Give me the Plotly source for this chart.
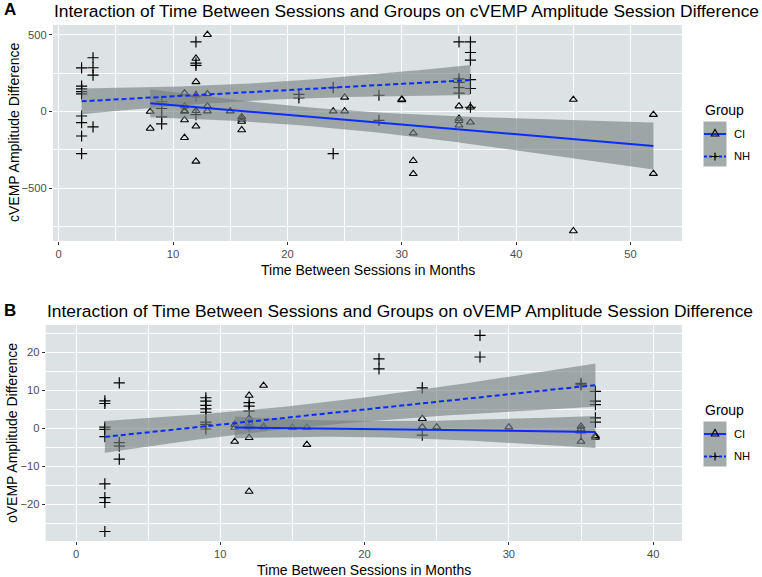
import numpy as np
import plotly.graph_objects as go

# ---------------- DATA ----------------
# Panel A: cVEMP amplitude session difference
ci_a_months = [8, 8, 11, 11, 11, 11, 11, 11, 12, 12, 12, 12, 12, 12, 13, 13, 13, 13, 15,
               16, 16, 16, 16, 24, 25, 25, 30, 30, 31, 31, 31, 35, 35, 35, 35, 36, 36,
               45, 45, 52, 52]
ci_a_diff = [0, -110, 120, 35, 5, 0, -55, -170, 345, 193, 106, 5, -96, -324, 500, 115, 35, 3, 3,
             -35, -50, -65, -120, 3, 92, 3, 80, 76, -140, -320, -405, 35, -45, -60, -89, 28, -70,
             78, -777, -20, -404]
nh_a_months = [2, 2, 2, 2, 2, 2, 2, 2, 2, 3, 3, 3, 3, 9, 9, 9, 9, 9, 12, 12, 12, 12, 12,
               21, 21, 24, 24, 28, 28, 35, 35, 35, 35, 35, 36, 36, 36, 36, 36, 36]
nh_a_diff = [284, 165, 148, 130, 115, -29, -72, -159, -274, 350, 285, 237, -100,
             65, 50, 20, -35, -80, 453, 315, 300, 100, -20, 112, 88, 155, -274, 106, -57,
             453, 212, 190, 155, 120, 453, 384, 334, 208, 150, 28]

# Panel B: oVEMP amplitude session difference
ci_b_months = [11, 11, 11, 12, 12, 12, 12, 12, 12, 13, 13, 13, 15, 16, 16, 24, 24, 25, 30,
               35, 35, 35, 36, 36]
ci_b_diff = [1.0, 0.2, -3.5, 8.6, 2.5, 1.5, 0.3, -2.5, -16.6, 11.2, 0.5, 0.2, 0.2, 0.2, -4.3,
             2.5, 0.3, 0.3, 0.3, 0.5, -0.2, -3.5, -2.0, -2.4]
nh_b_months = [2, 2, 2, 2, 2, 2, 2, 2, 2, 3, 3, 3, 3, 9, 9, 9, 9, 9, 9, 9, 9,
               12, 12, 12, 12, 21, 21, 24, 24, 28, 28, 35, 35, 35, 36, 36, 36, 36, 36]
nh_b_diff = [7.2, 6.5, 0.3, -0.3, -2.2, -14.6, -18.2, -19.5, -27.1, 11.9, -3.8, -4.7, -8.1,
             8.0, 7.1, 6.0, 5.1, 4.2, 1.6, 1.0, -0.2, 6.7, 5.8, 4.5, 0.5, 18.2, 15.6, 10.6, -1.8,
             24.4, 18.7, 11.8, 11.4, -1.2, 9.7, 7.1, 6.2, 2.7, 1.6]

groups = ["CI", "NH"]
titles = ["Interaction of Time Between Sessions and Groups on cVEMP Amplitude Session Difference",
          "Interaction of Time Between Sessions and Groups on oVEMP Amplitude Session Difference"]
ytitles = ["cVEMP Amplitude Difference", "oVEMP Amplitude Difference"]
xtitle = "Time Between Sessions in Months"
tags = ["A", "B"]

# ---------------- STYLE ----------------
W, H = 762, 577
FONT = "Liberation Sans, Arial, sans-serif"
PANEL = "#dde3e5"
RIBBON = "rgba(118,128,127,0.62)"
KEYFILL = "#a4acab"
BLUE = "#0a2cff"
DASH = "5px,3px"


def X(px):
    return px / W


def Y(py):
    return 1 - py / H


def tq975(df):
    z = 1.959963985
    g1 = (z ** 3 + z) / 4
    g2 = (5 * z ** 5 + 16 * z ** 3 + 3 * z) / 96
    g3 = (3 * z ** 7 + 19 * z ** 5 + 17 * z ** 3 - 15 * z) / 384
    return z + g1 / df + g2 / df ** 2 + g3 / df ** 3


def lm_smooth(xs, ys, n=80):
    x = np.asarray(xs, float)
    y = np.asarray(ys, float)
    b1, b0 = np.polyfit(x, y, 1)
    k = len(x)
    resid = y - (b0 + b1 * x)
    s = np.sqrt(np.sum(resid ** 2) / (k - 2))
    xb = x.mean()
    sxx = np.sum((x - xb) ** 2)
    g = np.linspace(x.min(), x.max(), n)
    f = b0 + b1 * g
    se = s * np.sqrt(1 / k + (g - xb) ** 2 / sxx)
    t = tq975(k - 2)
    return g, f, f - t * se, f + t * se


fig = go.Figure()

panels = [
    dict(xa="x", ya="y", ci=(ci_a_months, ci_a_diff), nh=(nh_a_months, nh_a_diff)),
    dict(xa="x2", ya="y2", ci=(ci_b_months, ci_b_diff), nh=(nh_b_months, nh_b_diff)),
]

for p in panels:
    # points
    fig.add_trace(go.Scatter(x=p["ci"][0], y=p["ci"][1], mode="markers", xaxis=p["xa"], yaxis=p["ya"],
                             marker=dict(symbol="triangle-up-open", size=7, color="black",
                                         line=dict(width=1.1, color="black")),
                             showlegend=False, hoverinfo="skip"))
    fig.add_trace(go.Scatter(x=p["nh"][0], y=p["nh"][1], mode="markers", xaxis=p["xa"], yaxis=p["ya"],
                             marker=dict(symbol="cross-thin-open", size=8, color="black",
                                         line=dict(width=1.2, color="black")),
                             showlegend=False, hoverinfo="skip"))
    # smooths
    fits = []
    for key in ["ci", "nh"]:
        g, f, lo, hi = lm_smooth(*p[key])
        fits.append((g, f))
        fig.add_trace(go.Scatter(x=np.concatenate([g, g[::-1]]), y=np.concatenate([hi, lo[::-1]]),
                                 mode="lines", fill="toself", fillcolor=RIBBON, line=dict(width=0),
                                 xaxis=p["xa"], yaxis=p["ya"], showlegend=False, hoverinfo="skip"))
    for (g, f), dash in zip(fits, ["solid", DASH]):
        fig.add_trace(go.Scatter(x=g, y=f, mode="lines", line=dict(color=BLUE, width=2, dash=dash),
                                 xaxis=p["xa"], yaxis=p["ya"], showlegend=False, hoverinfo="skip"))

common_ax = dict(showline=False, zeroline=False, showgrid=True, gridcolor="white", gridwidth=1.2,
                 ticks="outside", ticklen=3, tickwidth=1, tickcolor="#333333",
                 tickfont=dict(family=FONT, size=11.2, color="#4d4d4d"))

fig.update_layout(
    width=W, height=H, margin=dict(l=0, r=0, t=0, b=0),
    paper_bgcolor="white", plot_bgcolor=PANEL, showlegend=False,
    font=dict(family=FONT),
    xaxis=dict(domain=[X(53), X(682)], range=[-0.5, 54.5], tickvals=[0, 10, 20, 30, 40, 50],
               minor=dict(tickvals=[5, 15, 25, 35, 45], showgrid=True, gridcolor="white", gridwidth=0.6, ticks=""),
               anchor="y", **common_ax),
    yaxis=dict(domain=[Y(241), Y(25)], range=[-842, 563], tickvals=[-500, 0, 500],
               minor=dict(tickvals=[-750, -250, 250], showgrid=True, gridcolor="white", gridwidth=0.6, ticks=""),
               anchor="x", **common_ax),
    xaxis2=dict(domain=[X(45.7), X(682)], range=[-2.1, 42.0], tickvals=[0, 10, 20, 30, 40],
                minor=dict(tickvals=[5, 15, 25, 35], showgrid=True, gridcolor="white", gridwidth=0.6, ticks=""),
                anchor="y2", **common_ax),
    yaxis2=dict(domain=[Y(541), Y(325)], range=[-29.6, 27.1], tickvals=[-20, -10, 0, 10, 20],
                minor=dict(tickvals=[-25, -15, -5, 5, 15, 25], showgrid=True, gridcolor="white", gridwidth=0.6, ticks=""),
                anchor="x2", **common_ax),
)

annotations = []
shapes = []
for i, off in enumerate([0, 300]):
    # tag and title
    annotations.append(dict(text="<b>%s</b>" % tags[i], x=X(2), y=Y(10 + off), xref="paper", yref="paper",
                            xanchor="left", yanchor="middle", showarrow=False,
                            font=dict(family=FONT, size=17, color="black")))
    tx = 51.5 if i == 0 else 45
    annotations.append(dict(text=titles[i], x=X(tx), y=Y(10.8 + off), xref="paper", yref="paper",
                            xanchor="left", yanchor="middle", showarrow=False,
                            font=dict(family=FONT, size=17.4, color="black")))
    # axis titles
    xl = 53 if i == 0 else 45.7
    annotations.append(dict(text=xtitle, x=X((xl + 682) / 2), y=Y(270 + off), xref="paper", yref="paper",
                            xanchor="center", yanchor="middle", showarrow=False,
                            font=dict(family=FONT, size=14, color="black")))
    annotations.append(dict(text=ytitles[i], x=X(14 if i == 0 else 12), y=Y(133 + off), xref="paper",
                            yref="paper", xanchor="center", yanchor="middle", showarrow=False, textangle=-90,
                            font=dict(family=FONT, size=14, color="black")))
    # legend
    annotations.append(dict(text="Group", x=X(703), y=Y(110 + off), xref="paper", yref="paper",
                            xanchor="left", yanchor="middle", showarrow=False,
                            font=dict(family=FONT, size=14, color="black")))
    for j, g in enumerate(groups):
        cy = 133 + 22.5 * j + off
        annotations.append(dict(text=g, x=X(732), y=Y(cy + 0.5), xref="paper", yref="paper",
                                xanchor="left", yanchor="middle", showarrow=False,
                                font=dict(family=FONT, size=11.2, color="black")))
    shapes.append(dict(type="rect", xref="paper", yref="paper", x0=X(703.5), x1=X(726.5),
                       y0=Y(121.5 + off), y1=Y(166.5 + off), fillcolor=KEYFILL, line=dict(width=0), layer="above"))
    for j, dash in enumerate(["solid", "dash"]):
        cy = 133 + 22.5 * j + off
        shapes.append(dict(type="line", xref="paper", yref="paper", x0=X(704), x1=X(726), y0=Y(cy + 1), y1=Y(cy + 1),
                           line=dict(color=BLUE, width=2, dash=("solid" if j == 0 else "3px,2px")), layer="above"))
    cy = 133 + off
    shapes.append(dict(type="path", xref="paper", yref="paper",
                       path="M %f,%f L %f,%f L %f,%f Z" % (X(711.2), Y(cy + 3), X(718.8), Y(cy + 3), X(715), Y(cy - 3.6)),
                       line=dict(color="black", width=1.1), layer="above"))
    cy = 155.5 + off + 1
    shapes.append(dict(type="path", xref="paper", yref="paper",
                       path="M %f,%f L %f,%f M %f,%f L %f,%f" % (X(711), Y(cy), X(719), Y(cy), X(715), Y(cy - 4), X(715), Y(cy + 4)),
                       line=dict(color="black", width=1.2), layer="above"))

fig.update_layout(annotations=annotations, shapes=shapes)
fig.write_html("out.html", config={"displayModeBar": False},
               post_script="document.body.style.margin='0';document.body.style.overflow='hidden';")
